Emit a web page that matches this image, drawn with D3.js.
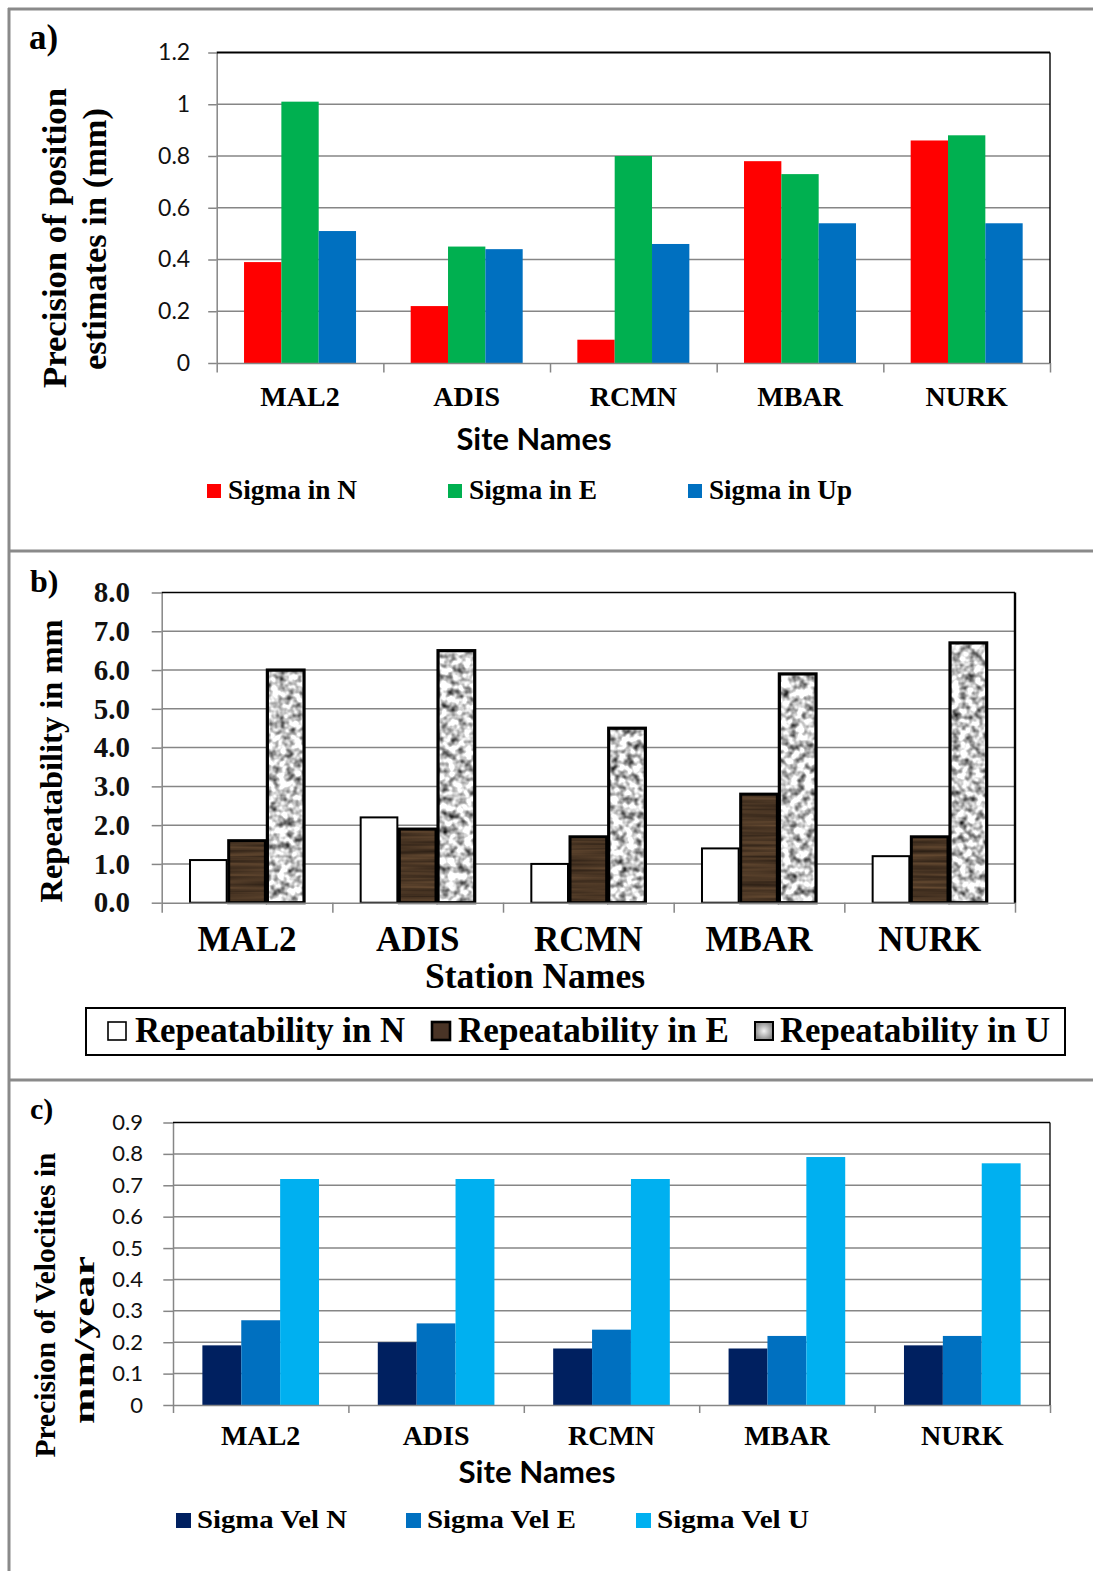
<!DOCTYPE html>
<html>
<head>
<meta charset="utf-8">
<script src="https://cdn.jsdelivr.net/npm/d3@7"></script>
<style>
  html, body { margin: 0; padding: 0; background: #fff; }
  svg { display: block; }
</style>
</head>
<body>
<svg id="chart" width="1093" height="1571"></svg>
<script>
// ---- data -------------------------------------------------------------
const sites = ["MAL2", "ADIS", "RCMN", "MBAR", "NURK"];

// a) precision of position estimates (mm)
const seriesA = ["Sigma in N", "Sigma in E", "Sigma in Up"];
const sigmaN  = [0.39, 0.22, 0.09, 0.78, 0.86];
const sigmaE  = [1.01, 0.45, 0.80, 0.73, 0.88];
const sigmaUp = [0.51, 0.44, 0.46, 0.54, 0.54];
const ticksA  = [0, 0.2, 0.4, 0.6, 0.8, 1, 1.2];

// b) repeatability (mm)
const seriesB = ["Repeatability in N", "Repeatability in E", "Repeatability in U"];
const repN = [1.1, 2.2, 1.0, 1.4, 1.2];
const repE = [1.6, 1.9, 1.7, 2.8, 1.7];
const repU = [6.0, 6.5, 4.5, 5.9, 6.7];
const ticksB = [0, 1, 2, 3, 4, 5, 6, 7, 8];

// c) precision of velocities (mm/year)
const seriesC = ["Sigma Vel N", "Sigma Vel E", "Sigma Vel U"];
const velN = [0.19, 0.20, 0.18, 0.18, 0.19];
const velE = [0.27, 0.26, 0.24, 0.22, 0.22];
const velU = [0.72, 0.72, 0.72, 0.79, 0.77];
const ticksC = [0, 0.1, 0.2, 0.3, 0.4, 0.5, 0.6, 0.7, 0.8, 0.9];

// ---- styles -----------------------------------------------------------
const SERIF = "'Liberation Serif', 'Times New Roman', serif";
const SANS  = "Lato, 'Open Sans', sans-serif";
const GRID  = "#868686";
const FRAME = "#8a8a8a";

const svg = d3.select("#chart");
const defs = svg.append("defs");

// noise textures for the repeatability bars
function noiseFilter(id, freq, octaves, seed, matrix) {
  const f = defs.append("filter").attr("id", id)
    .attr("x", 0).attr("y", 0).attr("width", "100%").attr("height", "100%")
    .attr("color-interpolation-filters", "sRGB");
  f.append("feTurbulence").attr("type", "fractalNoise")
    .attr("baseFrequency", freq).attr("numOctaves", octaves)
    .attr("seed", seed).attr("stitchTiles", "stitch");
  f.append("feColorMatrix").attr("type", "matrix").attr("values", matrix);
  f.append("feGaussianBlur").attr("stdDeviation", 0.5);
}
noiseFilter("graniteNoise", "0.13", 2, 7,
  "1.8 0 0 0 -0.11  1.8 0 0 0 -0.11  1.8 0 0 0 -0.11  0 0 0 0 1");
noiseFilter("woodNoise", "0.006 0.3", 2, 3,
  "0.32 0 0 0 0.13  0.24 0 0 0 0.09  0.16 0 0 0 0.06  0 0 0 0 1");

function texturePattern(id, filterId) {
  const p = defs.append("pattern").attr("id", id)
    .attr("patternUnits", "userSpaceOnUse")
    .attr("x", 0).attr("y", 0).attr("width", 240).attr("height", 360);
  p.append("rect").attr("width", 240).attr("height", 360)
    .attr("filter", `url(#${filterId})`);
}
texturePattern("granite", "graniteNoise");
texturePattern("wood", "woodNoise");

const rg = defs.append("radialGradient").attr("id", "graySwatch");
rg.append("stop").attr("offset", "0%").attr("stop-color", "#f4f4f4");
rg.append("stop").attr("offset", "100%").attr("stop-color", "#8e8e8e");

// ---- panel frames -----------------------------------------------------
svg.append("line").attr("x1", 9).attr("x2", 9).attr("y1", 8).attr("y2", 1571)
  .attr("stroke", FRAME).attr("stroke-width", 3);
[9, 551, 1080].forEach(yy => {
  svg.append("line").attr("x1", 8).attr("x2", 1093).attr("y1", yy).attr("y2", yy)
    .attr("stroke", FRAME).attr("stroke-width", 3);
});

// ---- helpers ----------------------------------------------------------
function fitWidth(sel, w, adjust) {
  sel.attr("textLength", w).attr("lengthAdjust", adjust || "spacingAndGlyphs");
  return sel;
}

function addText(str, x, y, o) {
  const t = svg.append("text").attr("x", x).attr("y", y).text(str)
    .attr("font-family", o.family || SERIF)
    .attr("font-weight", o.weight || "bold")
    .attr("font-size", o.size)
    .attr("text-anchor", o.anchor || "start")
    .attr("fill", "#000");
  if (o.width) fitWidth(t, o.width, o.adjust);
  return t;
}

function addVertical(str, bx, cy, o) {
  const t = svg.append("text")
    .attr("transform", `translate(${bx},${cy}) rotate(-90)`)
    .attr("text-anchor", "middle")
    .attr("font-family", SERIF).attr("font-weight", "bold")
    .attr("font-size", o.size).attr("fill", "#000").text(str);
  if (o.width) fitWidth(t, o.width, o.adjust);
  return t;
}

function barPanel(o) {
  const g = svg.append("g");
  const x = d3.scaleBand().domain(sites).range([o.left, o.right]);
  const y = d3.scaleLinear().domain([0, o.max]).range([o.bottom, o.top]);
  const inner = d3.scaleBand().domain(o.names)
    .range([0, x.bandwidth() * o.frac]);
  const offset = x.bandwidth() * (1 - o.frac) / 2;

  // horizontal gridlines
  g.append("g").selectAll("line")
    .data(o.ticks.filter(t => t > 0 && t < o.max))
    .join("line")
    .attr("x1", o.left).attr("x2", o.right)
    .attr("y1", d => y(d)).attr("y2", d => y(d))
    .attr("stroke", GRID).attr("stroke-width", 1.5);

  // bars
  o.names.forEach((name, si) => {
    g.append("g").selectAll("rect")
      .data(o.values[si])
      .join("rect")
      .attr("x", (d, i) => x(sites[i]) + offset + inner(name) + (o.inset || 0))
      .attr("width", inner.bandwidth() - 2 * (o.inset || 0))
      .attr("y", d => y(d))
      .attr("height", d => y(0) - y(d))
      .attr("fill", o.fills[si])
      .attr("stroke", o.strokes ? o.strokes[si] : "none")
      .attr("stroke-width", o.strokeWidths ? o.strokeWidths[si] : 0);
  });

  // y axis
  const ay = g.append("g").attr("transform", `translate(${o.left},0)`)
    .call(d3.axisLeft(y).tickValues(o.ticks).tickFormat(o.fmt)
      .tickSize(o.yTick).tickSizeOuter(0).tickPadding(o.yPad));
  ay.selectAll("line,path").attr("stroke", GRID).attr("stroke-width", 1.5);
  ay.selectAll("text")
    .attr("font-family", o.tickFamily).attr("font-weight", o.tickWeight)
    .attr("font-size", o.tickSize).attr("fill", "#111");

  // x axis: category boundaries
  const edge = d3.scaleLinear().domain([0, sites.length]).range([o.left, o.right]);
  const ax = g.append("g").attr("transform", `translate(0,${o.bottom})`)
    .call(d3.axisBottom(edge).tickValues(d3.range(sites.length + 1))
      .tickFormat("").tickSize(o.xTick).tickSizeOuter(0));
  ax.selectAll("line,path").attr("stroke", GRID).attr("stroke-width", 1.5);

  // category labels
  const al = g.append("g").attr("transform", `translate(0,${o.labelBase})`)
    .call(d3.axisBottom(x).tickSize(0).tickPadding(0));
  al.select(".domain").remove();
  al.selectAll("text").attr("y", 0).attr("dy", null)
    .attr("font-family", SERIF).attr("font-weight", "bold")
    .attr("font-size", o.labelSize).attr("fill", "#000");

  // plot box: top and right edges
  g.append("line").attr("x1", o.left).attr("x2", o.right)
    .attr("y1", o.top).attr("y2", o.top)
    .attr("stroke", "#000").attr("stroke-width", o.topW);
  g.append("line").attr("x1", o.right).attr("x2", o.right)
    .attr("y1", o.top).attr("y2", o.bottom)
    .attr("stroke", "#000").attr("stroke-width", o.rightW);
  return { x, y };
}

const fmtTrim = d => String(+d.toFixed(1));

// ---- a) precision of position estimates -------------------------------
const colorsA = ["#FF0000", "#00B050", "#0070C0"];
barPanel({
  left: 216.7, right: 1050, bottom: 363, top: 52.5, max: 1.2,
  ticks: ticksA, fmt: fmtTrim, names: seriesA,
  values: [sigmaN, sigmaE, sigmaUp], fills: colorsA, frac: 0.672,
  yTick: 8.5, yPad: 18, xTick: 9.5,
  tickFamily: SANS, tickWeight: "normal", tickSize: 23,
  labelBase: 406, labelSize: 28, topW: 2.2, rightW: 1.4
});
addText("a)", 29, 49, { size: 35 });
addVertical("Precision of position", 66, 238, { size: 34, width: 300 });
addVertical("estimates in (mm)", 106, 239, { size: 34, width: 262 });
addText("Site Names", 534, 450, { family: SANS, size: 31, anchor: "middle", width: 155 });
[[207, 129], [448, 128], [688, 143]].forEach(([lx, w], i) => {
  svg.append("rect").attr("x", lx).attr("y", 484).attr("width", 14).attr("height", 14)
    .attr("fill", colorsA[i]);
  addText(seriesA[i], lx + 21, 499, { size: 27, width: w });
});

// ---- b) repeatability --------------------------------------------------
barPanel({
  left: 161.7, right: 1015, bottom: 902.7, top: 592.5, max: 8,
  ticks: ticksB, fmt: d3.format(".1f"), names: seriesB,
  values: [repN, repE, repU], fills: ["#ffffff", "url(#wood)", "url(#granite)"],
  strokes: ["#000", "#000", "#000"], strokeWidths: [2, 3, 3.2], inset: 1,
  frac: 0.68, yTick: 10, yPad: 21.7, xTick: 10,
  tickFamily: SERIF, tickWeight: "bold", tickSize: 29,
  labelBase: 951, labelSize: 35, topW: 1.3, rightW: 2.4
});
addText("b)", 30, 592, { size: 32 });
addVertical("Repeatability in mm", 62, 761, { size: 32.5, width: 283 });
addText("Station Names", 535, 988, { size: 35, anchor: "middle", width: 220 });
svg.append("rect").attr("x", 86).attr("y", 1008).attr("width", 979).attr("height", 47)
  .attr("fill", "#fff").attr("stroke", "#000").attr("stroke-width", 2);
const swatchB = [
  { x: 108, fill: "#ffffff", sw: 1.6 },
  { x: 432, fill: "#4a3426", sw: 2.6 },
  { x: 755, fill: "url(#graySwatch)", sw: 2 }
];
[[135, 270], [458, 271], [780, 270]].forEach(([tx, w], i) => {
  const s = swatchB[i];
  svg.append("rect").attr("x", s.x).attr("y", 1022).attr("width", 18).attr("height", 18)
    .attr("fill", s.fill).attr("stroke", "#000").attr("stroke-width", s.sw);
  addText(seriesB[i], tx, 1042, { size: 35, width: w });
});

// ---- c) precision of velocities ---------------------------------------
const colorsC = ["#002060", "#0070C0", "#00B0F0"];
barPanel({
  left: 173, right: 1050, bottom: 1405, top: 1122.5, max: 0.9,
  ticks: ticksC, fmt: fmtTrim, names: seriesC,
  values: [velN, velE, velU], fills: colorsC, frac: 0.665,
  yTick: 9.7, yPad: 20.3, xTick: 8,
  tickFamily: SANS, tickWeight: "normal", tickSize: 22,
  labelBase: 1445, labelSize: 28, topW: 1.3, rightW: 1.3
});
addText("c)", 30, 1119, { size: 30 });
addVertical("Precision of Velocities in", 55, 1305, { size: 30, width: 305 });
addVertical("mm/year", 94, 1340, { size: 30, width: 168 });
addText("Site Names", 537, 1483, { family: SANS, size: 30, anchor: "middle", width: 157 });
[[176, 150], [406, 149], [636, 152]].forEach(([lx, w], i) => {
  svg.append("rect").attr("x", lx).attr("y", 1513).attr("width", 15).attr("height", 15)
    .attr("fill", colorsC[i]);
  addText(seriesC[i], lx + 21, 1528, { size: 25, width: w });
});
</script>
</body>
</html>
